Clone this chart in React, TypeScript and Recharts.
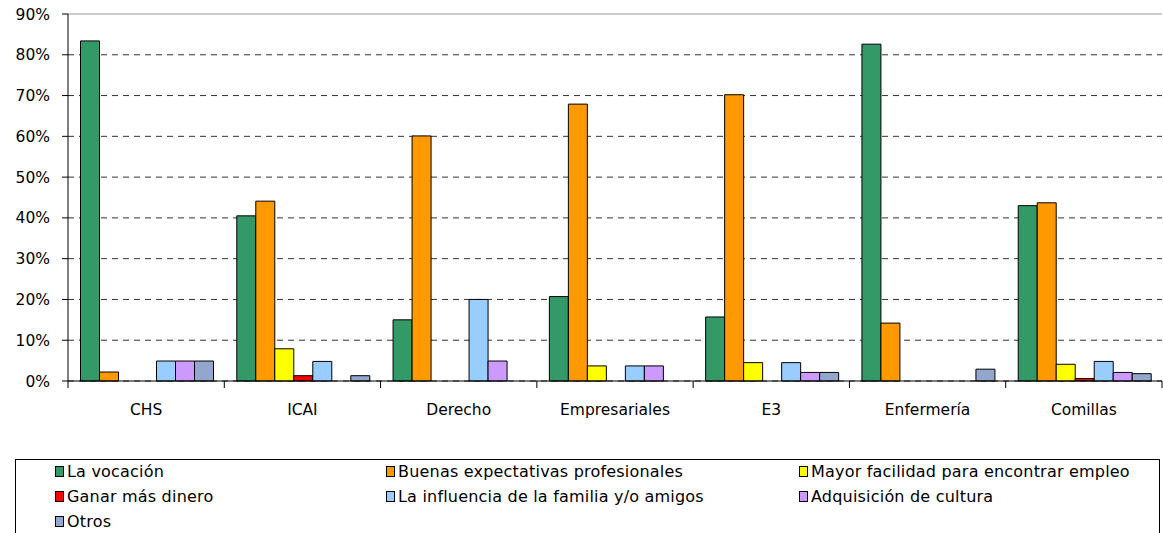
import React from "react";
import { BarChart, Bar, XAxis, YAxis, CartesianGrid } from "recharts";

const categories = ["CHS", "ICAI", "Derecho", "Empresariales", "E3", "Enfermería", "Comillas"];
const vocacion = [83.4, 40.5, 15.0, 20.7, 15.7, 82.6, 43.0];
const buenas = [2.2, 44.1, 60.1, 67.9, 70.2, 14.2, 43.7];
const mayor = [0, 7.9, 0, 3.7, 4.5, 0, 4.1];
const ganar = [0, 1.3, 0, 0, 0, 0, 0.6];
const influencia = [4.9, 4.8, 20.0, 3.7, 4.5, 0, 4.8];
const adquisicion = [4.9, 0, 4.9, 3.7, 2.1, 0, 2.1];
const otros = [4.9, 1.3, 0, 0, 2.1, 2.9, 1.8];
const yTicks = [0, 10, 20, 30, 40, 50, 60, 70, 80, 90];

const series = [
  { key: "vocacion", name: "La vocación", color: "#339966", values: vocacion },
  { key: "buenas", name: "Buenas expectativas profesionales", color: "#FF9900", values: buenas },
  { key: "mayor", name: "Mayor facilidad para encontrar empleo", color: "#FFFF00", values: mayor },
  { key: "ganar", name: "Ganar más dinero", color: "#FF0000", values: ganar },
  { key: "influencia", name: "La influencia de la familia y/o amigos", color: "#99CCFF", values: influencia },
  { key: "adquisicion", name: "Adquisición de cultura", color: "#CC99FF", values: adquisicion },
  { key: "otros", name: "Otros", color: "#93A6CE", values: otros },
];

const data = categories.map((c, i) => {
  const row: any = { cat: c };
  series.forEach((s) => (row[s.key] = s.values[i]));
  return row;
});

const FONT = "Verdana, 'DejaVu Sans', sans-serif";
const PLOT_LEFT = 68;
const PLOT_RIGHT = 1162;
const BAND = (PLOT_RIGHT - PLOT_LEFT) / categories.length;

const XTick = (props: any) => {
  const { x, y, payload, index } = props;
  const half = BAND / 2;
  return (
    <g>
      <line x1={x - half} x2={x - half} y1={y} y2={y + 7} stroke="#000" />
      {index === categories.length - 1 && (
        <line x1={x + half} x2={x + half} y1={y} y2={y + 7} stroke="#000" />
      )}
      <text x={x} y={y + 34} textAnchor="middle" fontSize={15.5} fontFamily={FONT} fill="#000">
        {payload.value}
      </text>
    </g>
  );
};

const GridLine = (props: any) => {
  const { x1, x2, y1, y2, y } = props;
  const isTop = Math.abs(y1 - y) < 0.5;
  return (
    <line
      x1={x1}
      x2={x2}
      y1={y1}
      y2={y2}
      stroke={isTop ? "#999" : "#333"}
      strokeWidth={1}
      strokeDasharray={isTop ? undefined : "6 5"}
    />
  );
};

const legendCols = [39, 370, 783];

export default function App() {
  return (
    <div style={{ position: "absolute", left: 0, top: 0, width: 1163, height: 533, background: "#fff", fontFamily: FONT }}>
      <BarChart
        width={1163}
        height={440}
        data={data}
        margin={{ top: 14, right: 1, left: 8, bottom: 0 }}
        barGap={0}
        barCategoryGap="8%"
      >
        <CartesianGrid vertical={false} horizontal={(p: any) => <GridLine {...p} />} />
        <XAxis
          dataKey="cat"
          axisLine={{ stroke: "#000" }}
          tickLine={false}
          tickSize={0}
          tickMargin={0}
          tick={<XTick />}
          height={59}
          interval={0}
        />
        <YAxis
          domain={[0, 90]}
          ticks={yTicks}
          tickFormatter={(v: number) => `${v}%`}
          axisLine={{ stroke: "#000" }}
          tickLine={{ stroke: "#000" }}
          tickSize={6}
          tickMargin={12}
          width={60}
          tick={{ fontSize: 15.5, fontFamily: FONT, fill: "#000" }}
          interval={0}
        />
        {series.map((s) => (
          <Bar
            key={s.key}
            dataKey={s.key}
            name={s.name}
            fill={s.color}
            stroke="#000"
            strokeWidth={1}
            isAnimationActive={false}
          />
        ))}
      </BarChart>
      <div
        style={{
          position: "absolute",
          left: 15,
          top: 459,
          width: 1145,
          height: 90,
          border: "1px solid #000",
          boxSizing: "border-box",
        }}
      >
        {series.map((s, i) => {
          const col = i % 3;
          const row = Math.floor(i / 3);
          return (
            <div
              key={s.key}
              style={{
                position: "absolute",
                left: legendCols[col],
                top: 2 + row * 25,
                display: "flex",
                alignItems: "center",
                fontSize: 16,
                letterSpacing: 0.2,
                lineHeight: "19px",
                whiteSpace: "nowrap",
                color: "#000",
              }}
            >
              <span
                style={{
                  display: "inline-block",
                  width: 7,
                  height: 9,
                  background: s.color,
                  border: "1px solid #000",
                  marginRight: 3,
                }}
              />
              {s.name}
            </div>
          );
        })}
      </div>
    </div>
  );
}
